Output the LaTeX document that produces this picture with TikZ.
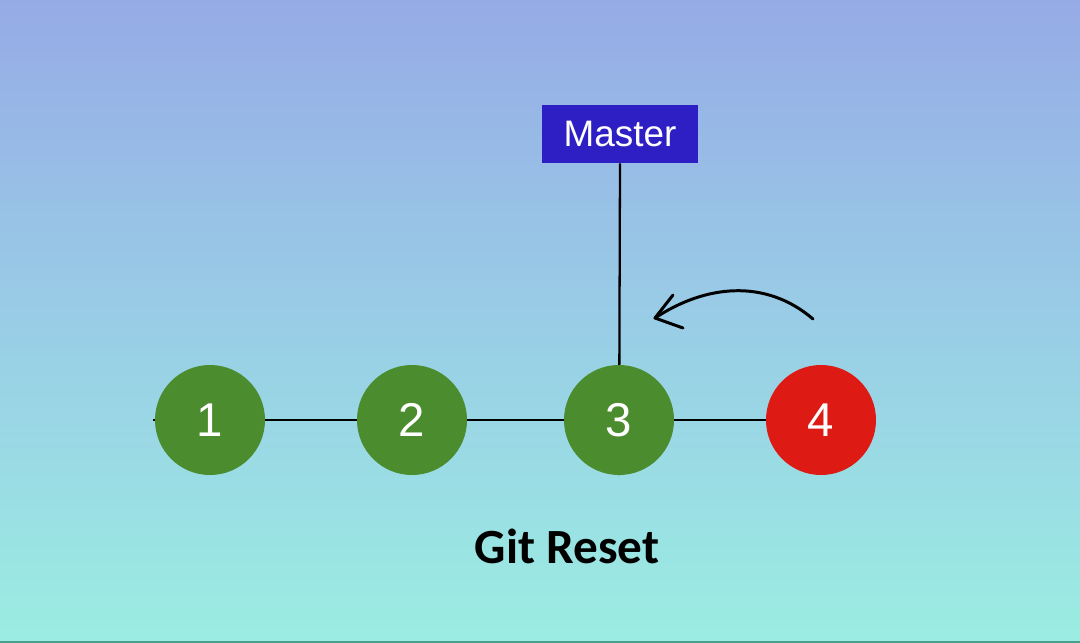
\documentclass[tikz,border=0pt]{standalone}
\usepackage{fontspec}
\setmainfont{Liberation Sans}
\newfontfamily\titlefont{Carlito}
\definecolor{bgtop}{HTML}{96ABE6}
\definecolor{bgmid}{HTML}{99CDE6}
\definecolor{bgbot}{HTML}{9BEDE2}
\definecolor{commitgreen}{HTML}{4A8C2E}
\definecolor{commitred}{HTML}{DD1A14}
\definecolor{masterblue}{HTML}{2E1FC4}
\definecolor{edgeline}{HTML}{4A9E8E}
\begin{document}
\begin{tikzpicture}[x=0.02cm,y=-0.02cm,
  commit/.style={circle,minimum size=110*0.02cm,inner sep=0pt,text=white,font=\fontsize{27}{29}\selectfont},
  good/.style={commit,fill=commitgreen},
  bad/.style={commit,fill=commitred},
  branch/.style={fill=masterblue,text=white,minimum width=156*0.02cm,minimum height=58*0.02cm,inner sep=0pt,font=\fontsize{21}{24}\selectfont},
  link/.style={line width=1.3pt,draw=black},
  movearrow/.style={line width=1.7pt,line cap=round,line join=round}]
\useasboundingbox (0,0) rectangle (1080,643);
\shade[top color=bgtop,bottom color=bgbot,middle color=bgmid] (0,0) rectangle (1080,643);
\fill[edgeline] (0,640.5) rectangle (1080,643);
% connectors drawn first (behind nodes)
\coordinate (lineL) at (153,420);
\coordinate (lineR) at (770,420);
\coordinate (vbot) at (619,475);
\node[branch] (master) at (620,134) {Master};
\draw[link] (lineL) -- (lineR);
\draw[link] (master.south) -- (vbot);
\node[good] (c1) at (210,420) {1};
\node[good] (c2) at (412,420) {2};
\node[good] (c3) at (619,420) {3};
\node[bad] (c4) at (821,420) {4};
% reset arrow
\coordinate (arrS) at (813,319);
\coordinate (arrE) at (655,318);
\coordinate (barbU) at (673,295);
\coordinate (barbL) at (683,328);
\draw[movearrow] (arrS) .. controls (765,278) and (705,285) .. (arrE);
\draw[movearrow] (barbU) -- (arrE) -- (barbL);
\node[font=\titlefont\bfseries\fontsize{28}{31}\selectfont] (title) at (567,546) {Git Reset};
\end{tikzpicture}
\end{document}
